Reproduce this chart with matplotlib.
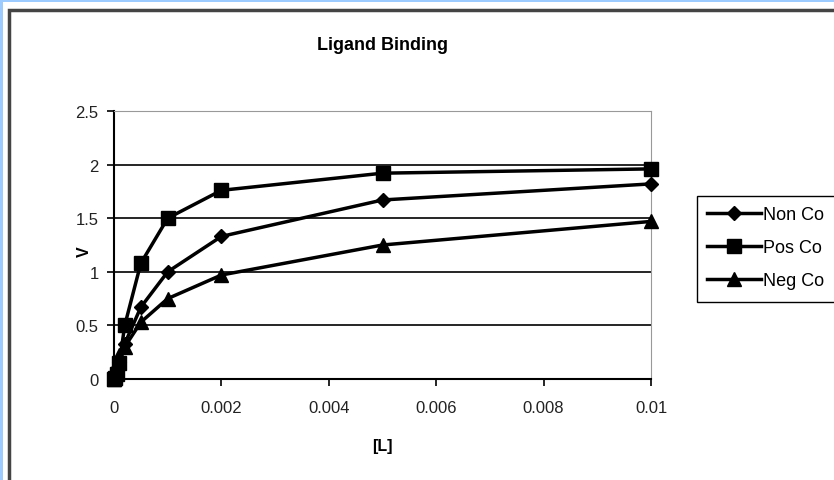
import matplotlib
matplotlib.use("Agg")
import matplotlib.pyplot as plt
from matplotlib.patches import Rectangle

plt.rcParams['font.family'] = ['Liberation Sans', 'DejaVu Sans']

# data
ligand = [0, 0.00002, 0.00005, 0.0001, 0.0002, 0.0005, 0.001, 0.002, 0.005, 0.01]
non_co = [0, 0.04, 0.095, 0.18, 0.33, 0.67, 1.0, 1.33, 1.67, 1.82]
pos_co = [0, 0.01, 0.05, 0.15, 0.5, 1.08, 1.5, 1.76, 1.92, 1.96]
neg_co = [0, 0.08, 0.15, 0.22, 0.3, 0.53, 0.75, 0.97, 1.25, 1.47]
series_names = ['Non Co', 'Pos Co', 'Neg Co']
x_ticks = [0, 0.002, 0.004, 0.006, 0.008, 0.01]
x_labels = ['0', '0.002', '0.004', '0.006', '0.008', '0.01']
y_ticks = [0, 0.5, 1, 1.5, 2, 2.5]
y_labels = ['0', '0.5', '1', '1.5', '2', '2.5']

W, H = 834, 481
fig = plt.figure(figsize=(W / 100, H / 100), dpi=100)
fig.patch.set_facecolor('#9ccbff')

# white page inside the light blue border, then the gray chart frame
fig.patches.append(Rectangle((3 / W, 0), 1, 1 - 3 / H, transform=fig.transFigure,
                             facecolor='white', edgecolor='none', zorder=-10))
fig.patches.append(Rectangle((9 / W, -0.1), 1.1, 1.1 - 11 / H, transform=fig.transFigure,
                             facecolor='white', edgecolor='#444444', linewidth=2.5, zorder=-9))
# legend box runs off the right edge in the original
fig.patches.append(Rectangle((697 / W, 1 - 303 / H), 0.3, 106 / H, transform=fig.transFigure,
                             facecolor='white', edgecolor='black', linewidth=1.0, zorder=-8))

ax = fig.add_axes([114 / W, 101 / H, (651 - 114) / W, (380 - 112) / H])
ax.set_zorder(1)
ax.set_facecolor('white')

ax.plot(ligand, non_co, color='black', lw=2.5, marker='D', ms=7.5, label=series_names[0], clip_on=False, zorder=3)
ax.plot(ligand, pos_co, color='black', lw=2.5, marker='s', ms=10, label=series_names[1], clip_on=False, zorder=3)
ax.plot(ligand, neg_co, color='black', lw=2.5, marker='^', ms=9.5, label=series_names[2], clip_on=False, zorder=3)

ax.set_xlim(0, 0.01)
ax.set_ylim(0, 2.5)
ax.set_xticks(x_ticks)
ax.set_xticklabels(x_labels)
ax.set_yticks(y_ticks)
ax.set_yticklabels(y_labels)
for y in y_ticks[1:-1]:
    ax.axhline(y, color='black', lw=1.2, zorder=1)

ax.spines['top'].set_color('#999999')
ax.spines['right'].set_color('#999999')
ax.spines['left'].set_linewidth(1.5)
ax.spines['bottom'].set_linewidth(1.5)
ax.tick_params(direction='out', length=5, width=1.2, labelsize=12, colors='black',
               labelcolor='#222222')
ax.tick_params(axis='x', pad=10)
ax.tick_params(axis='y', pad=6)

ax.set_title('Ligand Binding', fontsize=13, fontweight='bold', pad=45)
ax.set_xlabel('[L]', fontsize=11.5, fontweight='bold', labelpad=17)
ax.set_ylabel('V', fontsize=11.5, fontweight='bold')
ax.yaxis.set_label_coords((92 - 114) / 537, 0.48)

leg = fig.legend(loc='upper left', bbox_to_anchor=(697 / W, 1 - 197 / H),
                 frameon=False, fontsize=13, handlelength=3.0,
                 handletextpad=0.1, borderpad=0.55, labelspacing=0.9, borderaxespad=0)
leg.set_zorder(2)

fig.savefig('out.png', dpi=100)
